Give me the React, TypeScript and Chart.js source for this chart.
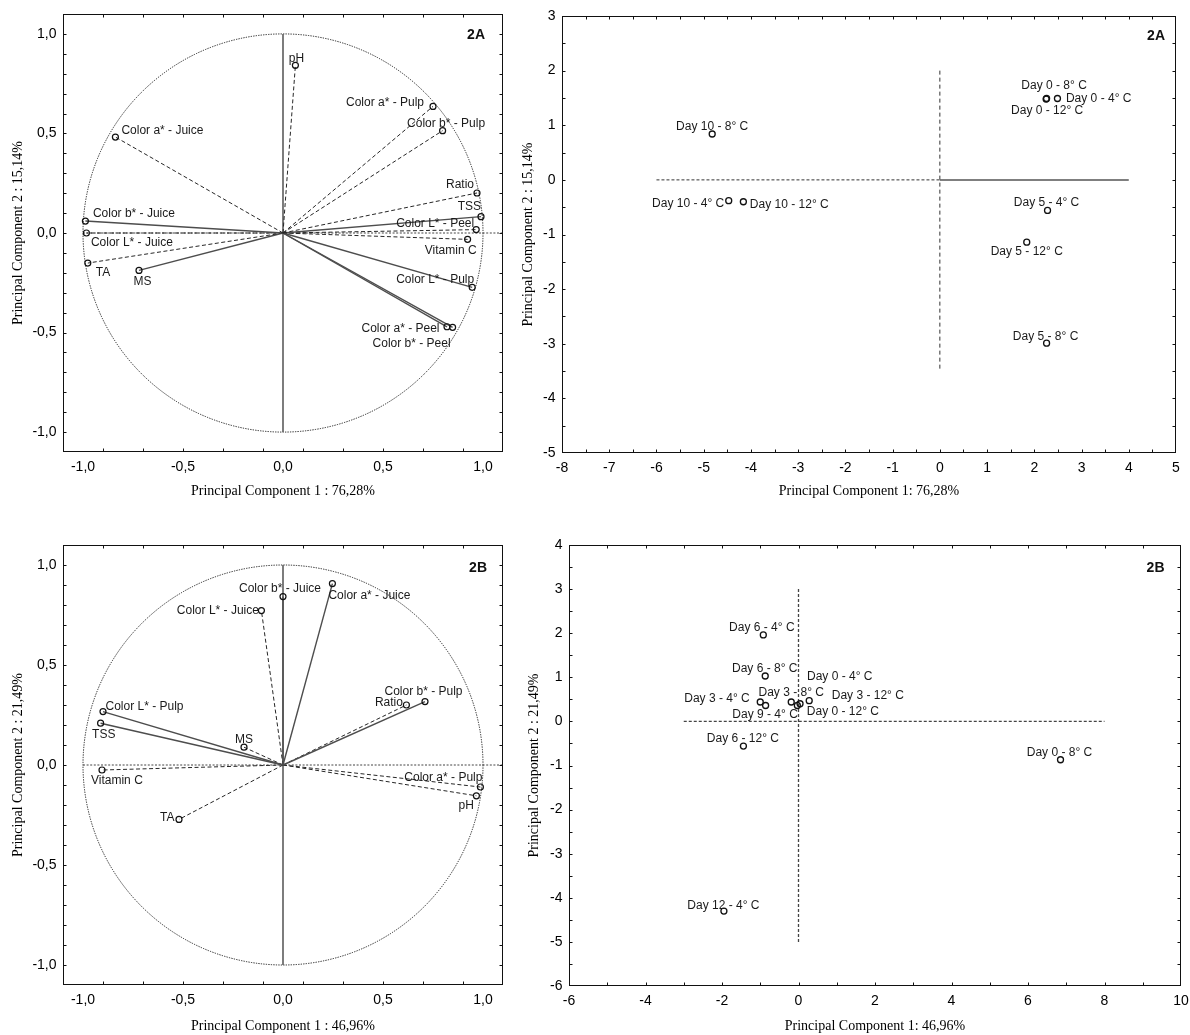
import React, { useEffect, useRef } from "react";
import { Chart, registerables } from "chart.js";
Chart.register(...registerables);

const SANS = '"Liberation Sans", Arial, sans-serif';
const SERIF = '"Liberation Serif", "Times New Roman", serif';

// ---------- 2A loadings ----------
const varsA = ["pH", "Color a* - Pulp", "Color b* - Pulp", "Color a* - Juice", "Ratio", "TSS", "Color L* - Peel", "Vitamin C", "Color b* - Juice", "Color L* - Juice", "TA", "MS", "Color L* - Pulp", "Color a* - Peel", "Color b* - Peel"];
const pc1LoadA = [0.062, 0.75, 0.798, -0.838, 0.97, 0.99, 0.966, 0.923, -0.988, -0.983, -0.976, -0.72, 0.946, 0.82, 0.848];
const pc2LoadA = [0.842, 0.636, 0.514, 0.482, 0.201, 0.082, 0.017, -0.032, 0.06, 0.0, -0.151, -0.188, -0.273, -0.471, -0.474];
const solidA = ["TSS", "Color b* - Juice", "MS", "Color L* - Pulp", "Color a* - Peel", "Color b* - Peel"];

// ---------- 2A scores ----------
const obsA = ["Day 0 - 8° C", "Day 0 - 4° C", "Day 0 - 12° C", "Day 10 - 8° C", "Day 10 - 4° C", "Day 10 - 12° C", "Day 5 - 4° C", "Day 5 - 12° C", "Day 5 - 8° C"];
const pc1ScoreA = [2.26, 2.49, 2.25, -4.82, -4.47, -4.16, 2.28, 1.84, 2.26];
const pc2ScoreA = [1.49, 1.49, 1.48, 0.84, -0.38, -0.4, -0.56, -1.14, -2.99];

// ---------- 2B loadings ----------
const varsB = ["Color b* - Juice", "Color a* - Juice", "Color L* - Juice", "Color b* - Pulp", "Ratio", "Color L* - Pulp", "TSS", "MS", "Vitamin C", "Color a* - Pulp", "pH", "TA"];
const pc1LoadB = [0.0, 0.247, -0.108, 0.71, 0.617, -0.9, -0.912, -0.195, -0.905, 0.987, 0.967, -0.52];
const pc2LoadB = [0.842, 0.907, 0.772, 0.317, 0.3, 0.267, 0.209, 0.089, -0.025, -0.11, -0.154, -0.272];
const solidB = ["Color b* - Juice", "Color a* - Juice", "Color b* - Pulp", "Color L* - Pulp", "TSS"];

// ---------- 2B scores ----------
const obsB = ["Day 6 - 4° C", "Day 6 - 8° C", "Day 0 - 4° C", "Day 3 - 4° C", "Day 3 - 8° C", "Day 3 - 12° C", "Day 9 - 4° C", "Day 0 - 12° C", "Day 6 - 12° C", "Day 0 - 8° C", "Day 12 - 4° C"];
const pc1ScoreB = [-0.92, -0.87, 0.04, -1.0, -0.19, 0.28, -0.86, -0.03, -1.44, 6.85, -1.95];
const pc2ScoreB = [1.96, 1.03, 0.4, 0.44, 0.44, 0.47, 0.36, 0.36, -0.56, -0.87, -4.3];

// ---------- ticks ----------
const loadTickVals = [-1, -0.5, 0, 0.5, 1];
const loadTickLabels = ["-1,0", "-0,5", "0,0", "0,5", "1,0"];
const scoreAX = [-8, -7, -6, -5, -4, -3, -2, -1, 0, 1, 2, 3, 4, 5];
const scoreAY = [-5, -4, -3, -2, -1, 0, 1, 2, 3];
const scoreBX = [-6, -4, -2, 0, 2, 4, 6, 8, 10];
const scoreBY = [-6, -5, -4, -3, -2, -1, 0, 1, 2, 3, 4];

// ---------- label placement (pixel offsets from the mark) ----------
type Place = [number, number, "l" | "r" | "c"];
const placeLoadA: Record<string, Place> = {
  "pH": [1, -7, "c"],
  "Color a* - Pulp": [-9, -4, "r"],
  "Color b* - Pulp": [3.5, -7, "c"],
  "Color a* - Juice": [6, -6, "l"],
  "Ratio": [-3, -8, "r"],
  "TSS": [0, -10, "r"],
  "Color L* - Peel": [-2, -6, "r"],
  "Vitamin C": [9, 11, "r"],
  "Color b* - Juice": [7.5, -7, "l"],
  "Color L* - Juice": [4.5, 9.5, "l"],
  "TA": [8, 9.5, "l"],
  "MS": [3.5, 11, "c"],
  "Color L* - Pulp": [2, -8, "r"],
  "Color a* - Peel": [-7.5, 2, "r"],
  "Color b* - Peel": [-2, 16.5, "r"],
};
const placeLoadB: Record<string, Place> = {
  "Color b* - Juice": [-3, -8, "c"],
  "Color a* - Juice": [-4, 12, "l"],
  "Color L* - Juice": [-2.5, 0, "r"],
  "Color b* - Pulp": [-1.5, -9.5, "c"],
  "Ratio": [-3.5, -2, "r"],
  "Color L* - Pulp": [2.5, -4.5, "l"],
  "TSS": [-8.5, 11, "l"],
  "MS": [0, -7.5, "c"],
  "Vitamin C": [-11, 10.5, "l"],
  "Color a* - Pulp": [2, -9.5, "r"],
  "pH": [-2.5, 9.5, "r"],
  "TA": [-4.5, -1.5, "r"],
};
const placeScoreA: Record<string, Place> = {
  "Day 0 - 8° C": [7.5, -12.5, "c"],
  "Day 0 - 4° C": [8.5, 0.5, "l"],
  "Day 0 - 12° C": [1, 11.5, "c"],
  "Day 10 - 8° C": [0, -7, "c"],
  "Day 10 - 4° C": [-4.5, 3.5, "r"],
  "Day 10 - 12° C": [6.5, 2.5, "l"],
  "Day 5 - 4° C": [-1, -7.5, "c"],
  "Day 5 - 12° C": [0, 9.5, "c"],
  "Day 5 - 8° C": [-1, -7, "c"],
};
const placeScoreB: Record<string, Place> = {
  "Day 6 - 4° C": [-1.5, -7, "c"],
  "Day 6 - 8° C": [-0.5, -7, "c"],
  "Day 0 - 4° C": [7, -27, "l"],
  "Day 3 - 4° C": [-10.5, -3.5, "r"],
  "Day 3 - 8° C": [0, -9.5, "c"],
  "Day 3 - 12° C": [22.5, -4.5, "l"],
  "Day 9 - 4° C": [-0.5, 9.5, "c"],
  "Day 0 - 12° C": [9.5, 6.5, "l"],
  "Day 6 - 12° C": [-0.5, -7.5, "c"],
  "Day 0 - 8° C": [-1, -7, "c"],
  "Day 12 - 4° C": [-0.5, -5, "c"],
};

type Area = { l: number; t: number; r: number; b: number };
type RefLine = { x1: number; y1: number; x2: number; y2: number; dash: number[]; color: string; width: number };
type LabelItem = { ds: number; idx: number; text: string; place: Place };

type Decor = {
  circle: boolean;
  refLines: RefLine[];
  labels: LabelItem[];
  xTick: [number, number, number];
  yTick: [number, number, number];
  tag: string;
  tagDx: number;
  tagDy: number;
};

function decorPlugin(d: Decor) {
  return {
    id: "decor",
    beforeDatasetsDraw(chart: any) {
      const { ctx, chartArea: a } = chart;
      const xs = chart.scales.x;
      const ys = chart.scales.y;
      ctx.save();
      ctx.beginPath();
      ctx.rect(a.left, a.top, a.right - a.left, a.bottom - a.top);
      ctx.clip();
      if (d.circle) {
        const cx = xs.getPixelForValue(0);
        const cy = ys.getPixelForValue(0);
        const rx = xs.getPixelForValue(1) - cx;
        const ry = cy - ys.getPixelForValue(1);
        ctx.beginPath();
        ctx.setLineDash([1.3, 1.2]);
        ctx.strokeStyle = "#222";
        ctx.lineWidth = 1;
        ctx.ellipse(cx, cy, rx, ry, 0, 0, Math.PI * 2);
        ctx.stroke();
      }
      for (const r of d.refLines) {
        ctx.beginPath();
        ctx.setLineDash(r.dash);
        ctx.strokeStyle = r.color;
        ctx.lineWidth = r.width;
        ctx.moveTo(xs.getPixelForValue(r.x1), ys.getPixelForValue(r.y1));
        ctx.lineTo(xs.getPixelForValue(r.x2), ys.getPixelForValue(r.y2));
        ctx.stroke();
      }
      ctx.restore();
    },
    afterDatasetsDraw(chart: any) {
      const { ctx } = chart;
      ctx.save();
      ctx.font = `12px ${SANS}`;
      ctx.fillStyle = "#1a1a1a";
      ctx.textBaseline = "middle";
      for (const it of d.labels) {
        const el = chart.getDatasetMeta(it.ds).data[it.idx];
        if (!el) continue;
        const [dx, dy, al] = it.place;
        ctx.textAlign = al === "l" ? "left" : al === "r" ? "right" : "center";
        ctx.fillText(it.text, el.x + dx, el.y + dy);
      }
      ctx.restore();
    },
    afterDraw(chart: any) {
      const { ctx, chartArea: a } = chart;
      const xs = chart.scales.x;
      const ys = chart.scales.y;
      const L = Math.round(a.left) + 0.5;
      const R = Math.round(a.right) - 0.5;
      const T = Math.round(a.top) + 0.5;
      const B = Math.round(a.bottom) - 0.5;
      ctx.save();
      ctx.strokeStyle = "#111";
      ctx.lineWidth = 1;
      ctx.setLineDash([]);
      ctx.strokeRect(L, T, R - L, B - T);
      const len = 3;
      ctx.beginPath();
      {
        const [s, e, st] = d.xTick;
        const n = Math.round((e - s) / st);
        for (let i = 0; i <= n; i++) {
          const px = Math.round(xs.getPixelForValue(s + i * st)) + 0.5;
          if (px < L + 1 || px > R - 1) continue;
          ctx.moveTo(px, B);
          ctx.lineTo(px, B - len);
          ctx.moveTo(px, T);
          ctx.lineTo(px, T + len);
        }
      }
      {
        const [s, e, st] = d.yTick;
        const n = Math.round((e - s) / st);
        for (let i = 0; i <= n; i++) {
          const py = Math.round(ys.getPixelForValue(s + i * st)) + 0.5;
          if (py < T + 1 || py > B - 1) continue;
          ctx.moveTo(L, py);
          ctx.lineTo(L + len, py);
          ctx.moveTo(R, py);
          ctx.lineTo(R - len, py);
        }
      }
      ctx.stroke();
      ctx.font = `bold 14px ${SANS}`;
      ctx.fillStyle = "#111";
      ctx.textAlign = "right";
      ctx.textBaseline = "middle";
      ctx.fillText(d.tag, a.right - d.tagDx, a.top + d.tagDy);
      ctx.restore();
    },
  };
}

type PanelSpec = {
  W: number;
  H: number;
  area: Area;
  xMin: number;
  xMax: number;
  yMin: number;
  yMax: number;
  xVals: number[];
  xLabels: string[];
  yVals: number[];
  yLabels: string[];
  xTitle: string;
  yTitle: string;
  xTitlePad: number;
  yTitlePad: number;
  datasets: any[];
  decor: Decor;
};

function axis(
  isX: boolean,
  min: number,
  max: number,
  vals: number[],
  labels: string[],
  title: string,
  titlePad: number,
  size: number
) {
  return {
    type: "linear",
    position: isX ? "bottom" : "left",
    min,
    max,
    grid: { display: false, drawTicks: false },
    border: { display: false },
    ticks: {
      autoSkip: false,
      maxRotation: 0,
      minRotation: 0,
      padding: 6.5,
      color: "#000",
      font: { family: SANS, size: 14 },
      callback: (v: number) => {
        const i = vals.findIndex((t) => Math.abs(t - v) < 1e-9);
        return i >= 0 ? labels[i] : "";
      },
    },
    afterBuildTicks: (s: any) => {
      s.ticks = vals.map((v) => ({ value: v }));
    },
    afterFit: (s: any) => {
      if (isX) s.height = size;
      else s.width = size;
      s.paddingLeft = 0;
      s.paddingRight = 0;
      s.paddingTop = 0;
      s.paddingBottom = 0;
    },
    title: {
      display: true,
      text: title,
      color: "#000",
      font: { family: SERIF, size: 14 },
      padding: isX ? { top: 0, bottom: titlePad } : { top: titlePad, bottom: 0 },
    },
  };
}

function makeConfig(p: PanelSpec): any {
  return {
    type: "scatter",
    data: { datasets: p.datasets },
    options: {
      animation: false,
      responsive: false,
      devicePixelRatio: 1,
      events: [],
      layout: {
        autoPadding: false,
        padding: { left: 0, top: p.area.t, right: p.W - p.area.r, bottom: 0 },
      },
      plugins: { legend: { display: false }, tooltip: { enabled: false } },
      scales: {
        x: axis(true, p.xMin, p.xMax, p.xVals, p.xLabels, p.xTitle, p.xTitlePad, p.H - p.area.b),
        y: axis(false, p.yMin, p.yMax, p.yVals, p.yLabels, p.yTitle, p.yTitlePad, p.area.l),
      },
    },
    plugins: [decorPlugin(p.decor)],
  };
}

function loadingDatasets(names: string[], xs: number[], ys: number[], solid: string[]) {
  return names.map((n, i) => {
    const isSolid = solid.includes(n);
    return {
      label: n,
      data: [
        { x: 0, y: 0 },
        { x: xs[i], y: ys[i] },
      ],
      showLine: true,
      borderColor: isSolid ? "#4d4d4d" : "#262626",
      borderWidth: isSolid ? 1.4 : 1,
      borderDash: isSolid ? [] : [4, 2.5],
      pointRadius: [0, 3],
      pointHoverRadius: [0, 3],
      pointBorderColor: "#111",
      pointBackgroundColor: "rgba(255,255,255,0)",
      pointBorderWidth: 1.2,
    };
  });
}

function scoreDataset(xs: number[], ys: number[]) {
  return [
    {
      label: "scores",
      data: xs.map((x, i) => ({ x, y: ys[i] })),
      showLine: false,
      pointRadius: 3,
      pointHoverRadius: 3,
      pointBorderColor: "#111",
      pointBackgroundColor: "rgba(255,255,255,0)",
      pointBorderWidth: 1.3,
    },
  ];
}

const fmtInt = (v: number) => String(v);

const specs: { left: number; top: number; spec: PanelSpec }[] = [
  {
    left: 0,
    top: 0,
    spec: {
      W: 545,
      H: 510,
      area: { l: 63, t: 14, r: 503, b: 452 },
      xMin: -1.1,
      xMax: 1.1,
      yMin: -1.1,
      yMax: 1.1,
      xVals: loadTickVals,
      xLabels: loadTickLabels,
      yVals: loadTickVals,
      yLabels: loadTickLabels,
      xTitle: "Principal Component 1 : 76,28%",
      yTitle: "Principal Component 2 : 15,14%",
      xTitlePad: 10.6,
      yTitlePad: 9.6,
      datasets: loadingDatasets(varsA, pc1LoadA, pc2LoadA, solidA),
      decor: {
        circle: true,
        refLines: [
          { x1: 0, y1: -1, x2: 0, y2: 1, dash: [], color: "#666", width: 1.7 },
          { x1: -1, y1: 0, x2: 1.1, y2: 0, dash: [2, 1.6], color: "#444", width: 1 },
        ],
        labels: varsA.map((n, i) => ({ ds: i, idx: 1, text: n, place: placeLoadA[n] })),
        xTick: [-1.1, 1.1, 0.2],
        yTick: [-1.1, 1.1, 0.1],
        tag: "2A",
        tagDx: 18,
        tagDy: 21,
      },
    },
  },
  {
    left: 510,
    top: 0,
    spec: {
      W: 680,
      H: 510,
      area: { l: 52, t: 16, r: 666, b: 453 },
      xMin: -8,
      xMax: 5,
      yMin: -5,
      yMax: 3,
      xVals: scoreAX,
      xLabels: scoreAX.map(fmtInt),
      yVals: scoreAY,
      yLabels: scoreAY.map(fmtInt),
      xTitle: "Principal Component 1: 76,28%",
      yTitle: "Principal Component 2 : 15,14%",
      xTitlePad: 10.6,
      yTitlePad: 9.6,
      datasets: scoreDataset(pc1ScoreA, pc2ScoreA),
      decor: {
        circle: false,
        refLines: [
          { x1: 0, y1: 2, x2: 0, y2: -3.5, dash: [4, 3], color: "#333", width: 1 },
          { x1: -6, y1: 0, x2: 0, y2: 0, dash: [3, 2], color: "#333", width: 1 },
          { x1: 0, y1: 0, x2: 4, y2: 0, dash: [], color: "#555", width: 1.5 },
        ],
        labels: obsA.map((n, i) => ({ ds: 0, idx: i, text: n, place: placeScoreA[n] })),
        xTick: [-8, 5, 0.5],
        yTick: [-5, 3, 0.5],
        tag: "2A",
        tagDx: 11,
        tagDy: 20,
      },
    },
  },
  {
    left: 0,
    top: 520,
    spec: {
      W: 545,
      H: 515,
      area: { l: 63, t: 25, r: 503, b: 465 },
      xMin: -1.1,
      xMax: 1.1,
      yMin: -1.1,
      yMax: 1.1,
      xVals: loadTickVals,
      xLabels: loadTickLabels,
      yVals: loadTickVals,
      yLabels: loadTickLabels,
      xTitle: "Principal Component 1 : 46,96%",
      yTitle: "Principal Component 2 : 21,49%",
      xTitlePad: 0.6,
      yTitlePad: 9.6,
      datasets: loadingDatasets(varsB, pc1LoadB, pc2LoadB, solidB),
      decor: {
        circle: true,
        refLines: [
          { x1: 0, y1: -1, x2: 0, y2: 1, dash: [], color: "#666", width: 1.7 },
          { x1: -1, y1: 0, x2: 1.1, y2: 0, dash: [2, 1.6], color: "#444", width: 1 },
        ],
        labels: varsB.map((n, i) => ({ ds: i, idx: 1, text: n, place: placeLoadB[n] })),
        xTick: [-1.1, 1.1, 0.2],
        yTick: [-1.1, 1.1, 0.1],
        tag: "2B",
        tagDx: 16,
        tagDy: 23,
      },
    },
  },
  {
    left: 510,
    top: 520,
    spec: {
      W: 680,
      H: 515,
      area: { l: 59, t: 25, r: 671, b: 466 },
      xMin: -6,
      xMax: 10,
      yMin: -6,
      yMax: 4,
      xVals: scoreBX,
      xLabels: scoreBX.map(fmtInt),
      yVals: scoreBY,
      yLabels: scoreBY.map(fmtInt),
      xTitle: "Principal Component 1: 46,96%",
      yTitle: "Principal Component 2 : 21,49%",
      xTitlePad: 0,
      yTitlePad: 15.6,
      datasets: scoreDataset(pc1ScoreB, pc2ScoreB),
      decor: {
        circle: false,
        refLines: [
          { x1: 0, y1: 3, x2: 0, y2: -5, dash: [3, 2], color: "#444", width: 1.3 },
          { x1: -3, y1: 0, x2: 8, y2: 0, dash: [3, 2], color: "#444", width: 1.3 },
        ],
        labels: obsB.map((n, i) => ({ ds: 0, idx: i, text: n, place: placeScoreB[n] })),
        xTick: [-6, 10, 1],
        yTick: [-6, 4, 0.5],
        tag: "2B",
        tagDx: 16.5,
        tagDy: 23,
      },
    },
  },
];

function PanelChart({ left, top, spec }: { left: number; top: number; spec: PanelSpec }) {
  const ref = useRef<HTMLCanvasElement>(null);
  useEffect(() => {
    if (!ref.current) return;
    const chart = new Chart(ref.current, makeConfig(spec));
    return () => chart.destroy();
  }, []);
  return (
    <canvas
      ref={ref}
      width={spec.W}
      height={spec.H}
      style={{ position: "absolute", left, top, width: spec.W, height: spec.H }}
    />
  );
}

export default function App() {
  return (
    <div style={{ position: "absolute", left: 0, top: 0, width: 1190, height: 1035, background: "#fff", overflow: "hidden" }}>
      {specs.map((s, i) => (
        <PanelChart key={i} left={s.left} top={s.top} spec={s.spec} />
      ))}
    </div>
  );
}
